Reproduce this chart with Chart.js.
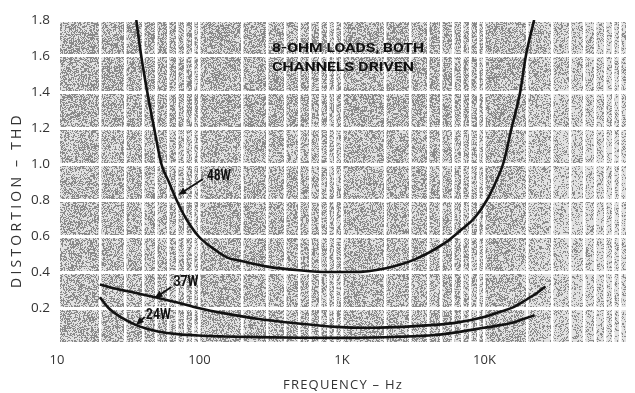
<!DOCTYPE html>
<html>
<head>
<meta charset="utf-8">
<style>
  html, body { margin: 0; padding: 0; background: #fff; }
  #wrap { width: 635px; height: 393px; }
</style>
</head>
<body>
<div id="wrap"><canvas id="thdChart"></canvas></div>
<script src="https://cdn.jsdelivr.net/npm/chart.js"></script>
<script>
    // curve readings, frequency in Hz / distortion in % THD
    const freq48 = [36, 39, 43, 48, 54, 61, 69, 80, 98, 120, 157, 200, 300, 500, 800, 1200, 2000, 3250, 5250, 7000, 8500, 10400, 12000, 13500, 15500, 17800, 19500, 22300];
    const thd48  = [1.8, 1.6, 1.4, 1.2, 1.0, 0.9, 0.8, 0.7, 0.6, 0.54, 0.48, 0.46, 0.43, 0.41, 0.40, 0.40, 0.42, 0.47, 0.56, 0.64, 0.70, 0.80, 0.90, 1.0, 1.2, 1.4, 1.6, 1.8];

    const freq37 = [20, 25, 35, 49, 70, 98, 150, 254, 478, 908, 1500, 2370, 4470, 6500, 9930, 13000, 16000, 20000, 23500, 26700];
    const thd37  = [0.33, 0.31, 0.285, 0.26, 0.23, 0.20, 0.17, 0.14, 0.115, 0.095, 0.09, 0.094, 0.106, 0.12, 0.15, 0.18, 0.205, 0.25, 0.285, 0.32];

    const freq24 = [20, 23, 28.6, 36, 45, 52, 70, 98, 150, 254, 500, 1070, 2500, 4470, 7000, 9930, 13000, 16000, 19000, 22500];
    const thd24  = [0.26, 0.20, 0.145, 0.105, 0.08, 0.068, 0.055, 0.047, 0.042, 0.038, 0.035, 0.034, 0.04, 0.05, 0.07, 0.09, 0.105, 0.12, 0.14, 0.16];

    const seriesNames = ['48W', '37W', '24W'];

    const yTicks = [0, 0.2, 0.4, 0.6, 0.8, 1.0, 1.2, 1.4, 1.6, 1.8];
    const xMajorTicks = [10, 100, 1000, 10000];
    const xMajorLabels = ['10', '100', '1K', '10K'];

    const noteLines = ['8-OHM LOADS, BOTH', 'CHANNELS DRIVEN'];
    const xTitle = 'FREQUENCY \u2013 Hz';
    const yTitle = 'DISTORTION \u2013 THD';

    // white grid at every 1..9 x 10^n
    const xGridValues = [];
    for (let e = 1; e <= 4; e++) {
        for (let m = 1; m <= 9; m++) xGridValues.push(m * Math.pow(10, e));
    }
    xGridValues.push(100000);

    const toPoints = (xs, ys) => xs.map((x, i) => ({x: x, y: ys[i]}));

    // halftone-ish gray paper behind the grid
    const paperTexture = {
        id: 'paperTexture',
        beforeDraw(chart) {
            const {ctx, chartArea} = chart;
            const x0 = Math.round(chartArea.left) + 3, x1 = Math.round(chartArea.right);
            const y0 = Math.round(chartArea.top) + 1, y1 = Math.round(chartArea.bottom) - 2;
            const w = x1 - x0, h = y1 - y0;
            const img = ctx.createImageData(w, h);
            for (let j = 0; j < h; j++) {
                for (let i = 0; i < w; i++) {
                    const x = x0 + i, y = y0 + j;
                    let p = 0.47;
                    if (x > 500) p -= Math.min(1, (x - 500) / 60) * 0.2;
                    if (y < 130) p += 0.05;
                    let hs = Math.imul(x, 374761393) + Math.imul(y, 668265263);
                    hs = Math.imul(hs ^ (hs >>> 13), 1274126177);
                    hs ^= hs >>> 16;
                    const r = (hs >>> 0) / 4294967296;
                    const v = r < p ? 138 : 226;
                    const k = (j * w + i) * 4;
                    img.data[k] = img.data[k + 1] = img.data[k + 2] = v;
                    img.data[k + 3] = 255;
                }
            }
            ctx.putImageData(img, x0, y0);
        }
    };

    function fitText(ctx, text, left, cy, width, font) {
        ctx.save();
        ctx.font = font;
        ctx.textBaseline = 'middle';
        ctx.textAlign = 'left';
        const w = ctx.measureText(text).width;
        ctx.translate(left, cy);
        ctx.scale(width / w, 1);
        ctx.fillText(text, 0, 0);
        ctx.restore();
    }

    function spacedText(ctx, text, cx, cy, width, font, angle) {
        ctx.save();
        ctx.font = font;
        ctx.letterSpacing = '0px';
        const w = ctx.measureText(text).width;
        ctx.letterSpacing = ((width - w) / text.length) + 'px';
        ctx.textBaseline = 'middle';
        ctx.textAlign = 'center';
        ctx.translate(cx, cy);
        ctx.rotate(angle);
        ctx.fillText(text, 0, 0);
        ctx.restore();
    }

    function arrow(ctx, x1, y1, x2, y2) {
        const a = Math.atan2(y2 - y1, x2 - x1);
        ctx.save();
        ctx.strokeStyle = '#111';
        ctx.fillStyle = '#111';
        ctx.lineWidth = 1.8;
        ctx.beginPath();
        ctx.moveTo(x1, y1);
        ctx.lineTo(x2 - 5 * Math.cos(a), y2 - 5 * Math.sin(a));
        ctx.stroke();
        ctx.beginPath();
        ctx.moveTo(x2, y2);
        ctx.lineTo(x2 - 8 * Math.cos(a) + 3.4 * Math.sin(a), y2 - 8 * Math.sin(a) - 3.4 * Math.cos(a));
        ctx.lineTo(x2 - 8 * Math.cos(a) - 3.4 * Math.sin(a), y2 - 8 * Math.sin(a) + 3.4 * Math.cos(a));
        ctx.closePath();
        ctx.fill();
        ctx.restore();
    }

    // labels placed in data units: text at (f, thd), arrow from tail to tip
    const curveNotes = [
        {text: seriesNames[0], f: 112.8, v: 0.928, w: 24, tail: [105.7, 0.917], tip: [71, 0.828]},
        {text: seriesNames[1], f: 65.6, v: 0.339, w: 25, tail: [63.5, 0.317], tip: [48.4, 0.256]},
        {text: seriesNames[2], f: 42, v: 0.161, w: 25, tail: [41.3, 0.15], tip: [35.8, 0.106]}
    ];

    const overlays = {
        id: 'overlays',
        afterDraw(chart) {
            const {ctx} = chart;
            const xs = chart.scales.x, ys = chart.scales.y;
            ctx.save();
            ctx.fillStyle = '#101010';
            fitText(ctx, noteLines[0], xs.getPixelForValue(323), ys.getPixelForValue(1.639), 152, 'bold 13px "Roboto"');
            fitText(ctx, noteLines[1], xs.getPixelForValue(323), ys.getPixelForValue(1.536), 142, 'bold 13px "Roboto"');
            curveNotes.forEach(n => {
                fitText(ctx, n.text, xs.getPixelForValue(n.f), ys.getPixelForValue(n.v), n.w, 'bold 14px "Roboto"');
                arrow(ctx, xs.getPixelForValue(n.tail[0]), ys.getPixelForValue(n.tail[1]),
                      xs.getPixelForValue(n.tip[0]), ys.getPixelForValue(n.tip[1]));
            });
            ctx.fillStyle = '#333';
            spacedText(ctx, xTitle, 343, 385, 120, '13px "Open Sans"', 0);
            spacedText(ctx, yTitle, 17, 200, 176, '14px "Open Sans"', -Math.PI / 2);
            ctx.restore();
        }
    };

    const lineStyle = {
        borderColor: '#121212',
        borderWidth: 2.6,
        pointRadius: 0,
        fill: false,
        cubicInterpolationMode: 'monotone'
    };

    const ctx = document.getElementById('thdChart').getContext('2d');
    const thdChart = new Chart(ctx, {
        type: 'line',
        data: {
            datasets: [
                Object.assign({label: seriesNames[0], data: toPoints(freq48, thd48)}, lineStyle),
                Object.assign({label: seriesNames[1], data: toPoints(freq37, thd37)}, lineStyle),
                Object.assign({label: seriesNames[2], data: toPoints(freq24, thd24)}, lineStyle)
            ]
        },
        options: {
            responsive: true,
            maintainAspectRatio: false,
            animation: false,
            layout: { padding: { top: 20, right: 0, left: 0, bottom: 0 } },
            plugins: {
                legend: { display: false },
                tooltip: { enabled: false }
            },
            scales: {
                x: {
                    type: 'logarithmic',
                    min: 10,
                    max: 100000,
                    afterBuildTicks: s => { s.ticks = xGridValues.map(v => ({value: v})); },
                    afterFit: s => { s.height = 49; },
                    border: { display: false },
                    grid: { color: '#ffffff', lineWidth: 2.5, drawTicks: false },
                    ticks: {
                        autoSkip: false,
                        maxRotation: 0,
                        padding: 8,
                        color: '#333',
                        font: { family: '"Open Sans"', size: 13 },
                        callback: v => {
                            const i = xMajorTicks.indexOf(v);
                            return i >= 0 ? xMajorLabels[i] : '';
                        }
                    }
                },
                y: {
                    min: 0,
                    max: 1.8,
                    afterBuildTicks: s => { s.ticks = yTicks.map(v => ({value: v})); },
                    afterFit: s => { s.width = 57; },
                    border: { display: false },
                    grid: { color: '#ffffff', lineWidth: 3, drawTicks: false },
                    ticks: {
                        padding: 7,
                        color: '#333',
                        font: { family: '"Open Sans"', size: 13.5 },
                        callback: v => v === 0 ? '' : v.toFixed(1)
                    }
                }
            }
        },
        plugins: [paperTexture, overlays]
    });
</script>
</body>
</html>
